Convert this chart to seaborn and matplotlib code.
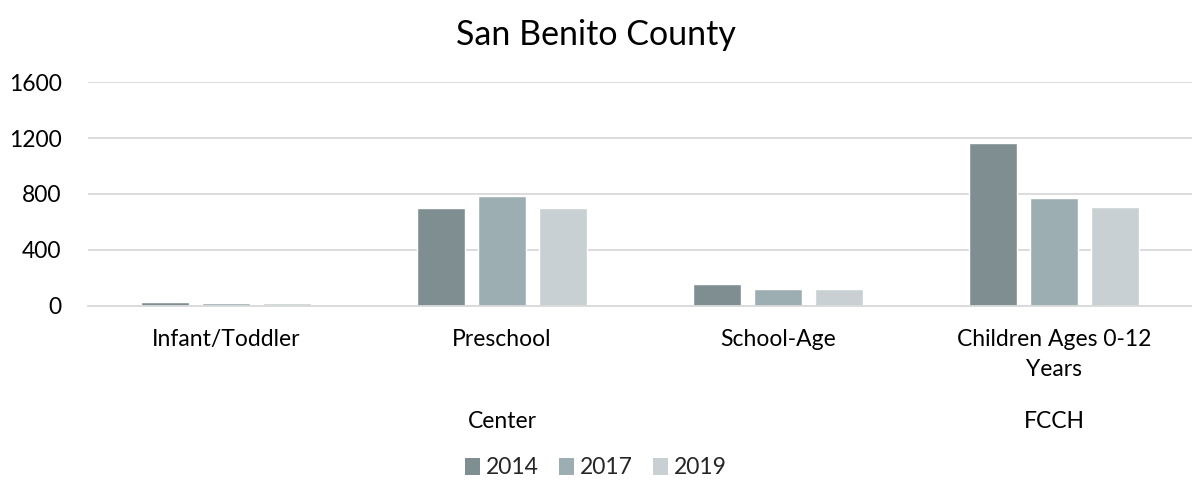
import matplotlib
matplotlib.use("Agg")
import matplotlib.pyplot as plt
import matplotlib.transforms as mtransforms
from matplotlib.patches import Patch
import seaborn as sns
import pandas as pd

categories = ["Infant/Toddler", "Preschool", "School-Age", "Children Ages 0-12\nYears"]
groups = ["Center", "FCCH"]
group_members = [[0, 1, 2], [3]]
years = ["2014", "2017", "2019"]
values_2014 = [28, 697, 155, 1167]
values_2017 = [20, 785, 120, 769]
values_2019 = [18, 702, 117, 704]
colors = ["#7F8E91", "#9DAEB3", "#C8D0D3"]
yticks = [0, 400, 800, 1200, 1600]

rows = []
for yr, vals in zip(years, [values_2014, values_2017, values_2019]):
    for c, v in zip(categories, vals):
        rows.append({"category": c, "year": yr, "value": v})
df = pd.DataFrame(rows)

sns.set_theme(style="white")
plt.rcParams["font.family"] = ["Lato", "DejaVu Sans"]

fig = plt.figure(figsize=(11.92, 4.83), dpi=100)
ax = fig.add_axes([88 / 1192, 1 - 305.7 / 483, 1 - 88 / 1192, (305.7 - 82.3) / 483])

sns.barplot(data=df, x="category", y="value", hue="year", order=categories,
            hue_order=years, palette=colors, width=0.66, gap=0.21,
            saturation=1, ax=ax, legend=False)

ax.set_ylim(0, 1600)
ax.set_yticks(yticks)
ax.set_xlim(-0.5, len(categories) - 0.5)
ax.yaxis.grid(True, color="#D9D9D9", linewidth=1.3)
ax.set_axisbelow(True)
for s in ["top", "right", "left"]:
    ax.spines[s].set_visible(False)
ax.spines["bottom"].set_color("#D9D9D9")
ax.spines["bottom"].set_linewidth(1.3)
ax.tick_params(axis="y", length=0, labelsize=16.5, pad=19, colors="#000000")
ax.tick_params(axis="x", length=0, labelsize=16.5, pad=17, colors="#000000")
for lab in ax.get_xticklabels():
    lab.set_linespacing(1.5)
ax.set_xlabel("")
ax.set_ylabel("")

trans = mtransforms.blended_transform_factory(ax.transData, fig.transFigure)
for g, members in zip(groups, group_members):
    xc = sum(members) / len(members)
    ax.text(xc, 1 - 421.7 / 483, g, transform=trans, ha="center", va="center",
            fontsize=16.5, color="#000000")

fig.text(0.5, 1 - 35 / 483, "San Benito County", ha="center", va="center",
         fontsize=24.5, color="#000000")

handles = [Patch(facecolor=c, edgecolor="none") for c in colors]
fig.legend(handles, years, loc="center", bbox_to_anchor=(0.5, 1 - 468 / 483),
           ncol=3, frameon=False, fontsize=16.5, handlelength=0.65, handleheight=0.8,
           handletextpad=0.25, columnspacing=0.9)

fig.savefig("out.png", dpi=100)
